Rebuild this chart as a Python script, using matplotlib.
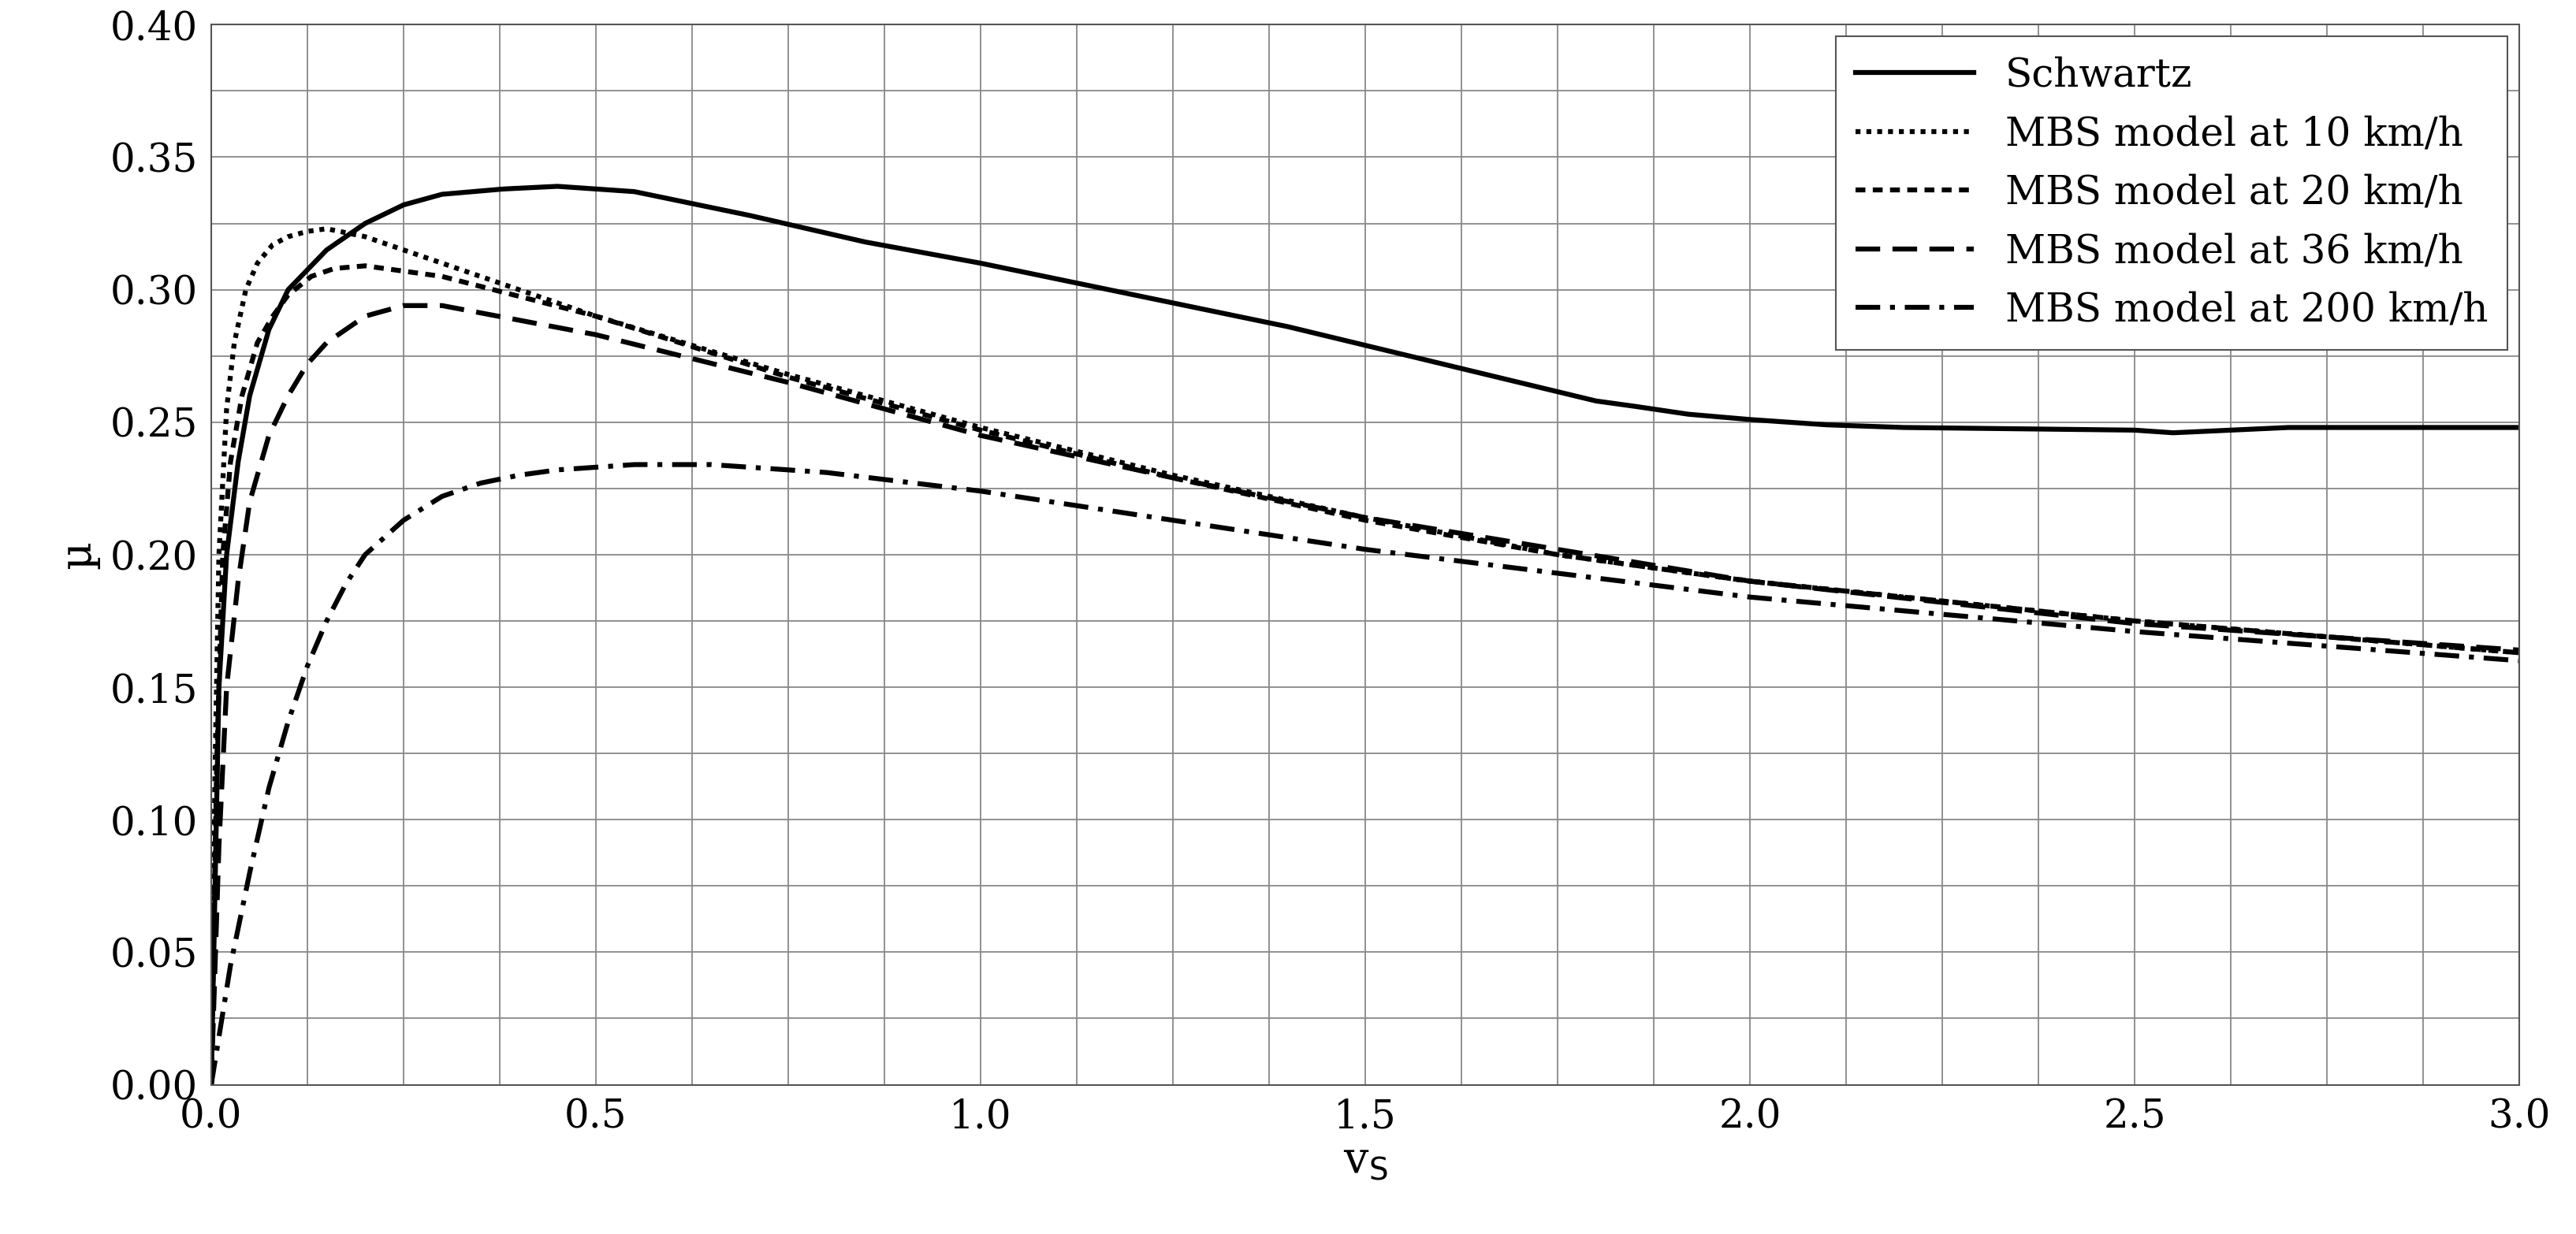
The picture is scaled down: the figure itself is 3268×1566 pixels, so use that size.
import matplotlib
matplotlib.use("Agg")
import matplotlib.pyplot as plt
import numpy as np

sch_x = [0,0.01,0.02,0.035,0.05,0.075,0.1,0.15,0.2,0.25,0.3,0.38,0.45,0.55,0.7,0.85,1.0,1.2,1.4,1.6,1.8,1.85,1.92,2.0,2.1,2.2,2.5,2.55,2.7,3.0]
sch_y = [0,0.15,0.2,0.235,0.26,0.285,0.3,0.315,0.325,0.332,0.336,0.338,0.339,0.337,0.328,0.318,0.31,0.298,0.286,0.272,0.258,0.256,0.253,0.251,0.249,0.248,0.247,0.246,0.248,0.248]
m10_x = [0,0.005,0.01,0.02,0.03,0.045,0.06,0.08,0.1,0.125,0.15,0.2,0.3,0.5,0.75,1.0,1.25,1.5,1.75,2.0,2.5,3.0]
m10_y = [0,0.12,0.2,0.255,0.28,0.3,0.31,0.317,0.32,0.322,0.323,0.32,0.31,0.29,0.268,0.248,0.23,0.214,0.2,0.19,0.175,0.163]
m20_x = [0,0.007,0.015,0.025,0.04,0.06,0.08,0.1,0.13,0.16,0.2,0.3,0.5,0.75,1.0,1.25,1.5,1.75,2.0,2.5,3.0]
m20_y = [0,0.12,0.2,0.235,0.26,0.28,0.29,0.298,0.305,0.308,0.309,0.305,0.29,0.267,0.247,0.229,0.213,0.2,0.19,0.175,0.163]
m36_x = [0,0.01,0.02,0.035,0.05,0.075,0.1,0.125,0.15,0.2,0.25,0.3,0.5,0.75,1.0,1.25,1.5,2.0,2.5,3.0]
m36_y = [0,0.09,0.15,0.19,0.22,0.245,0.26,0.272,0.28,0.29,0.294,0.294,0.283,0.265,0.245,0.229,0.214,0.19,0.174,0.164]
m200_x = [0,0.025,0.05,0.075,0.1,0.125,0.15,0.175,0.2,0.25,0.3,0.35,0.4,0.45,0.55,0.65,0.8,1.0,1.25,1.5,2.0,2.5,3.0]
m200_y = [0,0.045,0.08,0.112,0.137,0.158,0.175,0.189,0.2,0.213,0.222,0.227,0.23,0.232,0.234,0.234,0.231,0.224,0.213,0.202,0.184,0.171,0.16]

plt.rcParams['font.family'] = ['DejaVu Serif']
fig = plt.figure(figsize=(32.68, 15.66), dpi=100)
ax = fig.add_axes([0.082, 0.121, 0.896, 0.859])
lw = 4.5
ax.plot(sch_x, sch_y, color='black', lw=lw, ls='-', label='Schwartz')
ax.plot(m10_x, m10_y, color='black', lw=lw, ls=(0, (1, 1.2)), label='MBS model at 10 km/h')
ax.plot(m20_x, m20_y, color='black', lw=lw, ls=(0, (2, 1.5)), label='MBS model at 20 km/h')
ax.plot(m36_x, m36_y, color='black', lw=lw, ls=(0, (5, 2.5)), label='MBS model at 36 km/h')
ax.plot(m200_x, m200_y, color='black', lw=lw, ls=(0, (5, 2, 1, 2)), label='MBS model at 200 km/h')
ax.set_xlim(0, 3.0); ax.set_ylim(0, 0.40)
ax.set_xticks(np.arange(0, 3.01, 0.5)); ax.set_xticks(np.arange(0, 3.01, 0.125), minor=True)
ax.set_yticks(np.arange(0, 0.401, 0.05)); ax.set_yticks(np.arange(0, 0.401, 0.025), minor=True)
ax.xaxis.set_major_formatter(matplotlib.ticker.FormatStrFormatter('%.1f'))
ax.yaxis.set_major_formatter(matplotlib.ticker.FormatStrFormatter('%.2f'))
ax.grid(True, which='both', color='#888888', lw=1.3)
ax.tick_params(which='both', length=0, labelsize=36, pad=12)
ax.set_xlabel('v$_\\mathrm{S}$', fontsize=40, labelpad=2)
ax.set_ylabel('µ', fontsize=40, labelpad=10)
for s in ax.spines.values(): s.set_color('#555555'); s.set_linewidth(1.5)
leg = ax.legend(loc='upper right', fontsize=36, frameon=True, fancybox=False, edgecolor='#555555',
                handlelength=3.0, borderpad=0.5, labelspacing=0.5, framealpha=1, borderaxespad=0.3)
leg.get_frame().set_linewidth(1.5)
fig.savefig('out.png', dpi=100)
